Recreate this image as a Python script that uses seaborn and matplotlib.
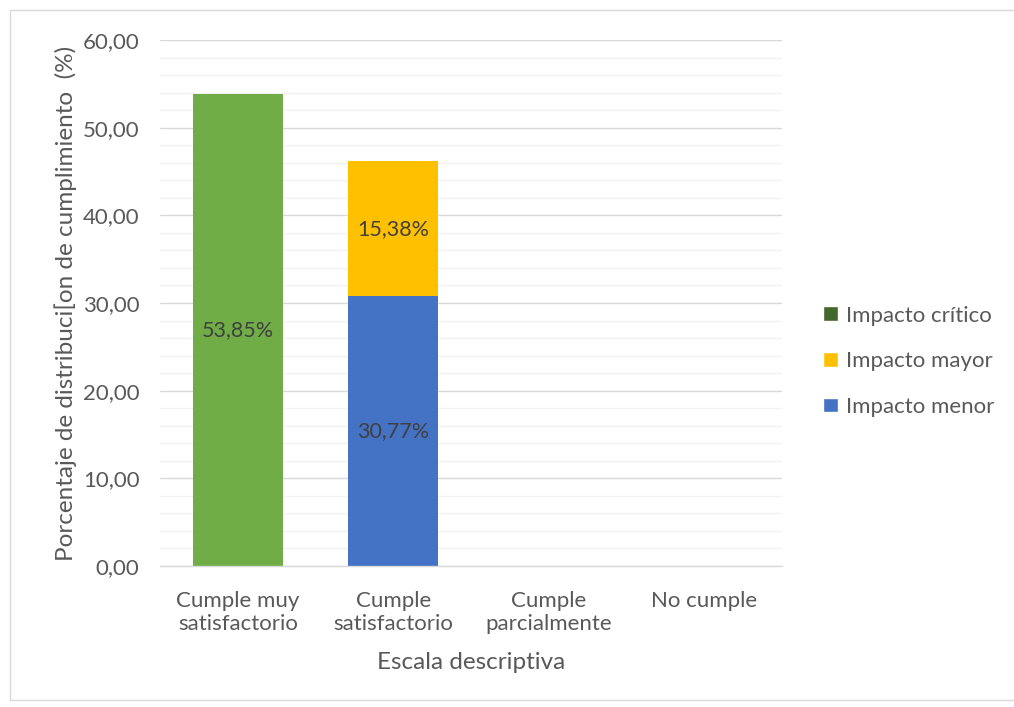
import matplotlib
matplotlib.use("Agg")
import matplotlib.pyplot as plt
from matplotlib.patches import Patch, Rectangle
from matplotlib.ticker import MultipleLocator, FuncFormatter
import numpy as np
import pandas as pd
import seaborn as sns

categories = ["Cumple muy\nsatisfactorio", "Cumple\nsatisfactorio", "Cumple\nparcialmente", "No cumple"]
impacto_menor = [0.0, 30.77, 0.0, 0.0]
impacto_mayor = [0.0, 15.38, 0.0, 0.0]
impacto_critico = [53.85, 0.0, 0.0, 0.0]

series_names = ["Impacto menor", "Impacto mayor", "Impacto crítico"]
series_values = [impacto_menor, impacto_mayor, impacto_critico]
series_colors = ["#4472C4", "#FFC000", "#43682B"]
# the first category's bar is drawn in a lighter green
point_colors_critico = ["#70AD47", "#43682B", "#43682B", "#43682B"]

sns.set_theme(style="white")
plt.rcParams["font.family"] = ["Lato", "DejaVu Sans"]

fig = plt.figure(figsize=(10.14, 7.07), dpi=100)
ax = fig.add_axes([0.158, 0.1994, 0.613, 0.744])

# cumulative tops per series; draw the tallest stack first so lower series overlay it
values = np.array(series_values)
tops = np.cumsum(values, axis=0)
bottoms = tops - values

df = pd.DataFrame({"cat": categories})
for k in range(len(series_names) - 1, -1, -1):
    name, col = series_names[k], series_colors[k]
    df["top"] = tops[k]
    if name == "Impacto crítico":
        pal = dict(zip(categories, point_colors_critico))
    else:
        pal = dict(zip(categories, [col] * len(categories)))
    sns.barplot(data=df, x="cat", y="top", hue="cat", palette=pal, legend=False,
                width=0.58, ax=ax, saturation=1, order=categories,
                hue_order=categories, linewidth=0)

for k in range(len(series_names)):
    for i, v in enumerate(values[k]):
        if v > 0:
            ax.text(i, bottoms[k][i] + v / 2, f"{v:.2f}%".replace(".", ","),
                    ha="center", va="center", fontsize=15.5, color="#404040")

ax.set_ylim(0, 60)
ax.set_xlim(-0.5, len(categories) - 0.5)
ax.yaxis.set_major_locator(MultipleLocator(10))
ax.yaxis.set_minor_locator(MultipleLocator(2))
ax.yaxis.set_major_formatter(FuncFormatter(lambda v, p: f"{v:.2f}".replace(".", ",")))
ax.grid(True, which="major", axis="y", color="#D9D9D9", lw=1)
ax.grid(True, which="minor", axis="y", color="#F2F2F2", lw=1)
ax.set_axisbelow(True)
for s in ["top", "right", "left"]:
    ax.spines[s].set_visible(False)
ax.spines["bottom"].set_color("#D9D9D9")
ax.spines["bottom"].set_linewidth(1)
ax.tick_params(axis="both", which="both", length=0, labelsize=16, colors="#595959")
ax.tick_params(axis="y", pad=15)
ax.tick_params(axis="x", pad=18)
ax.set_xticks(range(len(categories)))
ax.set_xticklabels(categories, va="top")

ax.set_xlabel("Escala descriptiva", fontsize=17.5, color="#595959", labelpad=13)
ax.set_ylabel("Porcentaje de distribuci[on de cumplimiento  (%)", fontsize=17.5,
              color="#595959", labelpad=4)

handles = [Patch(facecolor=c, label=n) for n, c in zip(series_names[::-1], series_colors[::-1])]
leg = fig.legend(handles=handles, loc="center left", bbox_to_anchor=(0.801, 0.489),
                 frameon=False, fontsize=16, labelcolor="#595959",
                 handlelength=0.65, handleheight=0.65, handletextpad=0.35,
                 labelspacing=1.15, borderpad=0)

fig.patches.append(Rectangle((10 / 1014, 7 / 707), 1.0, 690 / 707, transform=fig.transFigure,
                             fill=False, edgecolor="#D9D9D9", lw=1))

fig.savefig("out.png", dpi=100, facecolor="white")
